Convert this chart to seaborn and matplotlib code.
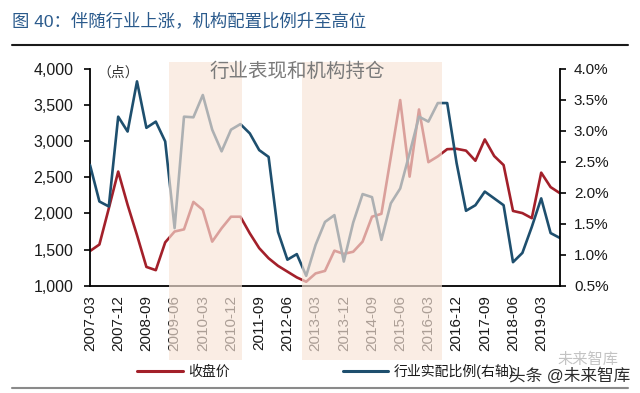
import matplotlib
matplotlib.use("Agg")
import matplotlib.pyplot as plt
import seaborn as sns
import pandas as pd
from matplotlib.patches import Rectangle
from matplotlib.lines import Line2D
from matplotlib.transforms import blended_transform_factory
from matplotlib.ticker import FuncFormatter, MultipleLocator

quarters = [
    "2007-03", "2007-06", "2007-09", "2007-12", "2008-03", "2008-06", "2008-09", "2008-12",
    "2009-03", "2009-06", "2009-09", "2009-12", "2010-03", "2010-06", "2010-09", "2010-12",
    "2011-03", "2011-06", "2011-09", "2011-12", "2012-03", "2012-06", "2012-09", "2012-12",
    "2013-03", "2013-06", "2013-09", "2013-12", "2014-03", "2014-06", "2014-09", "2014-12",
    "2015-03", "2015-06", "2015-09", "2015-12", "2016-03", "2016-06", "2016-09", "2016-12",
    "2017-03", "2017-06", "2017-09", "2017-12", "2018-03", "2018-06", "2018-09", "2018-12",
    "2019-03", "2019-06", "2019-09",
]
close_price = [
    1480, 1570, 2070, 2580, 2120, 1700, 1260, 1215, 1600, 1750,
    1780, 2160, 2050, 1610, 1795, 1955, 1955, 1725, 1520, 1380,
    1275, 1195, 1115, 1055, 1170, 1205, 1485, 1440, 1470, 1610,
    1955, 1995, 2780, 3570, 2510, 3440, 2710, 2790, 2890, 2895,
    2870, 2730, 3025, 2795, 2670, 2035, 2005, 1935, 2565, 2365,
    2280,
]
alloc_ratio = [
    2.45, 1.86, 1.78, 3.23, 2.99, 3.80, 3.05, 3.15, 2.83, 1.43,
    3.23, 3.22, 3.58, 3.02, 2.67, 3.02, 3.11, 2.96, 2.69, 2.58,
    1.37, 0.92, 1.01, 0.66, 1.16, 1.53, 1.64, 0.89, 1.52, 1.98,
    1.93, 1.24, 1.83, 2.07, 2.64, 3.23, 3.15, 3.45, 3.45, 2.48,
    1.71, 1.80, 2.02, 1.91, 1.80, 0.88, 1.03, 1.45, 1.91, 1.35,
    1.27,
]
shade_spans = [(8.4, 16.2), (22.5, 37.4)]
title = "图 40：伴随行业上涨，机构配置比例升至高位"
overlay_text = "行业表现和机构持仓"
legend_labels = ["收盘价", "行业实配比例(右轴)"]

RED = "#a3202a"
BLUE = "#1e4f6e"

sns.set_theme(style="white")
plt.rcParams["font.family"] = ["Liberation Sans", "Noto Sans CJK SC", "DejaVu Sans"]

df = pd.DataFrame({"idx": range(len(quarters)), "quarter": quarters,
                   "close": close_price, "ratio": alloc_ratio})

fig = plt.figure(figsize=(6.4, 3.93), dpi=100)
fig.patch.set_facecolor("white")
ax = fig.add_axes([90 / 640, 1 - 285.7 / 393, 470 / 640, (285.7 - 69) / 393])
ax2 = ax.twinx()

sns.lineplot(data=df, x="idx", y="close", ax=ax, color=RED, linewidth=1.9, legend=False)
sns.lineplot(data=df, x="idx", y="ratio", ax=ax2, color=BLUE, linewidth=1.9, legend=False)

ax.set_xlim(0, len(quarters) - 1)
ax.set_ylim(1000, 4000)
ax2.set_ylim(0.5, 4.0)
ax.yaxis.set_major_locator(MultipleLocator(500))
ax2.yaxis.set_major_locator(MultipleLocator(0.5))
ax.yaxis.set_major_formatter(FuncFormatter(lambda v, p: f"{int(v):,}"))
ax2.yaxis.set_major_formatter(FuncFormatter(lambda v, p: f"{v:.1f}%"))
tick_idx = list(range(0, len(quarters), 3))[:17]
ax.set_xticks(tick_idx)
ax.set_xticklabels([quarters[i] for i in tick_idx], rotation=90)
ax.set_xlabel("")
ax.set_ylabel("")
ax2.set_ylabel("")
ax.grid(False)
ax2.grid(False)

for a in (ax, ax2):
    for s in a.spines.values():
        s.set_visible(False)
        s.set_color("black")
        s.set_linewidth(1.3)
ax.spines["left"].set_visible(True)
ax.spines["bottom"].set_visible(True)
ax2.spines["right"].set_visible(True)

ax.tick_params(axis="y", direction="out", length=4, width=1.2, colors="black",
               labelsize=11.5, labelcolor="#1a1a1a", pad=8)
ax.tick_params(axis="x", direction="out", length=4, width=1.2, colors="black",
               labelsize=11, labelcolor="#1a1a1a", pad=3)
ax2.tick_params(axis="y", direction="out", length=4, width=1.2, colors="black",
                labelsize=11, labelcolor="#1a1a1a", pad=6)

# unit label
ax.text(0.015, 0.985, "（点）", transform=ax.transAxes, fontsize=10, color="#333333",
        ha="left", va="center")

# overlay headline
fig.text(210 / 640, 1 - 72 / 393, overlay_text, fontsize=14, color="#7a7a7a",
         ha="left", va="center", zorder=20)

# shaded spans drawn over the plot (they fade lines, spines and tick labels)
trans = blended_transform_factory(ax2.transData, fig.transFigure)
for x0, x1 in shade_spans:
    r = Rectangle((x0, 1 - 360 / 393), x1 - x0, (360 - 62) / 393, transform=trans,
                  facecolor="#f8e4d7", edgecolor="none", alpha=0.66, zorder=15, clip_on=False)
    ax2.add_patch(r)

# title and rules
fig.text(12 / 640, 1 - 22 / 393, title, fontsize=12.5, color="#2a5a8c", ha="left", va="center")
fig.add_artist(Line2D([12 / 640, 628 / 640], [1 - 45 / 393, 1 - 45 / 393],
                      color="#1a1a1a", linewidth=1.5, transform=fig.transFigure))
fig.add_artist(Line2D([12 / 640, 628 / 640], [1 - 388 / 393, 1 - 388 / 393],
                      color="#8a8a8a", linewidth=1.5, transform=fig.transFigure))

# legend
handles = [Line2D([], [], color=RED, linewidth=2.2), Line2D([], [], color=BLUE, linewidth=2.2)]
fig.legend(handles, legend_labels, loc="center left", bbox_to_anchor=(137 / 640, 1 - 371 / 393),
           ncol=2, frameon=False, fontsize=10, handlelength=3.3, handletextpad=0.4,
           columnspacing=8.1, borderpad=0, borderaxespad=0, labelcolor="#1a1a1a")

# watermark
fig.text(630 / 640, 1 - 376 / 393, "头条 @未来智库", fontsize=12, color="#2b2b2b",
         ha="right", va="center", zorder=30)
fig.text(618 / 640, 1 - 360 / 393, "未来智库", fontsize=11, color="#b5b5b5",
         ha="right", va="center", alpha=0.8, zorder=29)

fig.savefig("out.png", dpi=100, facecolor="white")
